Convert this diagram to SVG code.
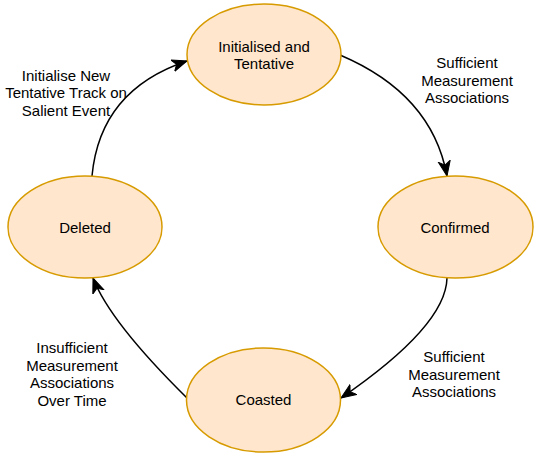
<svg xmlns="http://www.w3.org/2000/svg" width="536" height="455" viewBox="0 0 536 455">
<style>
.node ellipse{fill:#FFE6CC;stroke:#D79B00;stroke-width:1.5}
text{font-family:"Liberation Sans",Arial,sans-serif;font-size:15px;fill:#000;text-anchor:middle}
.edge{fill:none;stroke:#000;stroke-width:1.5;marker-end:url(#arr)}
</style>
<defs>
<marker id="arr" markerUnits="userSpaceOnUse" markerWidth="18" markerHeight="14" refX="15" refY="7" orient="auto">
<path d="M0,1 L15,7 L0,13 L4,7 Z" fill="#000" stroke="#000" stroke-width="1"/>
</marker>
</defs>
<rect width="536" height="455" fill="#fff"/>
<g id="connectors">
<path class="edge" d="M92,176 Q100,90 187,61"/>
<path class="edge" d="M340,55 Q432,94 447,176"/>
<path class="edge" d="M447,278 Q446,326 341,398"/>
<path class="edge" d="M187,398 Q110,322 93,278"/>
</g>
<g id="node-initialised" class="node">
<ellipse cx="264" cy="54.5" rx="77" ry="50.5"/>
<text x="264" y="52">Initialised and</text>
<text x="264" y="69">Tentative</text>
</g>
<g id="node-confirmed" class="node">
<ellipse cx="455.5" cy="227" rx="77.5" ry="51"/>
<text x="455" y="232.5">Confirmed</text>
</g>
<g id="node-deleted" class="node">
<ellipse cx="85" cy="227" rx="77" ry="51"/>
<text x="85" y="232.5">Deleted</text>
</g>
<g id="node-coasted" class="node">
<ellipse cx="263.5" cy="400" rx="77" ry="52"/>
<text x="263.5" y="405">Coasted</text>
</g>
<g id="labels">
<text x="467" y="68">Sufficient</text>
<text x="467" y="85.5">Measurement</text>
<text x="467" y="103">Associations</text>
<text x="454" y="362">Sufficient</text>
<text x="454" y="379.5">Measurement</text>
<text x="454" y="397">Associations</text>
<text x="72" y="353">Insufficient</text>
<text x="72" y="370.5">Measurement</text>
<text x="72" y="388">Associations</text>
<text x="72" y="405.5">Over Time</text>
<text x="66" y="80.5">Initialise New</text>
<text x="66" y="98">Tentative Track on</text>
<text x="66" y="115.5">Salient Event</text>
</g>
</svg>
